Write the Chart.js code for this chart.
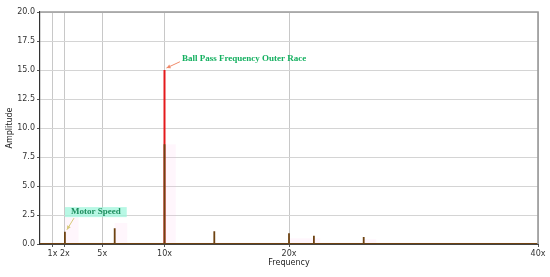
<!DOCTYPE html>
<html>
<head>
<meta charset="utf-8">
<script src="https://cdn.jsdelivr.net/npm/chart.js@4.4.1/dist/chart.umd.min.js"></script>
<style>
html,body{margin:0;padding:0;background:#fff;}
#wrap{width:550px;height:277px;position:relative;}
</style>
</head>
<body>
<div id="wrap"><canvas id="c" width="550" height="277"></canvas></div>
<script>
// ---- data ----
const harmonicTicks = [1, 2, 5, 10, 20, 40];
const yTicks = [0, 2.5, 5, 7.5, 10, 12.5, 15, 17.5, 20];
const peakFreqs = [2, 6, 10, 14, 20, 22, 26];
const peakAmps  = [1.06, 1.35, 8.6, 1.1, 0.92, 0.71, 0.6];
const bpfoFreq = 10;
const bpfoAmp = 15;
const bandStarts  = [2, 6, 10, 20, 26];
const bandEnds    = [3.1, 7.0, 10.9, 22.5, 27];
const bandHeights = [2.3, 1.8, 8.6, 0.5, 0.4];
const annotationLabels  = ['Ball Pass Frequency Outer Race', 'Motor Speed'];
const annotationTargets = [[10, 15], [2, 1.06]];
const annotationTextPos = [[11.4, 15.97], [2.49, 2.75]];

// build datasets
const spectrum = [{x: 0, y: 0}];
peakFreqs.forEach((f, i) => { spectrum.push({x: f, y: 0}, {x: f, y: peakAmps[i]}, {x: f, y: 0}); });
spectrum.push({x: 40, y: 0});

const bpfoLine = [{x: bpfoFreq, y: 0}, {x: bpfoFreq, y: bpfoAmp}];

const bands = [{x: 0, y: 0.12}];
bandStarts.forEach((s, i) => {
  bands.push({x: s, y: 0.12}, {x: s, y: bandHeights[i]}, {x: bandEnds[i], y: bandHeights[i]}, {x: bandEnds[i], y: 0.12});
});
bands.push({x: 40, y: 0.12});

const annotPlugin = {
  id: 'annot',
  afterDatasetsDraw(chart) {
    const ctx = chart.ctx, xs = chart.scales.x, ys = chart.scales.y, a = chart.chartArea;
    ctx.save();
    // frame top/right
    ctx.strokeStyle = '#9a9a9a';
    ctx.lineWidth = 1.6;
    ctx.beginPath();
    ctx.moveTo(a.left, a.top); ctx.lineTo(a.right, a.top); ctx.lineTo(a.right, a.bottom);
    ctx.stroke();

    const styles = [
      {font: 'bold 9px "Liberation Serif", serif', color: '#14b060', arrow: '#f08a6a', bg: null},
      {font: 'bold 9px "Liberation Serif", serif', color: '#1f8f5f', arrow: '#d6c878', bg: 'rgba(160,245,220,0.75)'}
    ];
    annotationLabels.forEach((lab, i) => {
      const st = styles[i];
      const tx = xs.getPixelForValue(annotationTextPos[i][0]);
      const ty = ys.getPixelForValue(annotationTextPos[i][1]);
      const px = xs.getPixelForValue(annotationTargets[i][0]);
      const py = ys.getPixelForValue(annotationTargets[i][1]);
      ctx.font = st.font;
      const w = ctx.measureText(lab).width;
      if (st.bg) {
        ctx.fillStyle = st.bg;
        ctx.fillRect(tx - 6, ty - 5, w + 12, 10);
      }
      ctx.fillStyle = st.color;
      ctx.textBaseline = 'middle';
      ctx.textAlign = 'left';
      ctx.fillText(lab, tx, ty);
      // arrow
      const sx = i === 0 ? tx - 2 : tx + 3;
      const sy = i === 0 ? ty + 3 : ty + 6;
      const ex = px + 2, ey = py - 2;
      ctx.strokeStyle = st.arrow; ctx.fillStyle = st.arrow; ctx.lineWidth = 1;
      ctx.beginPath(); ctx.moveTo(sx, sy); ctx.lineTo(ex, ey); ctx.stroke();
      const ang = Math.atan2(ey - sy, ex - sx);
      ctx.beginPath();
      ctx.moveTo(ex, ey);
      ctx.lineTo(ex - 4 * Math.cos(ang) + 2 * Math.sin(ang), ey - 4 * Math.sin(ang) - 2 * Math.cos(ang));
      ctx.lineTo(ex - 4 * Math.cos(ang) - 2 * Math.sin(ang), ey - 4 * Math.sin(ang) + 2 * Math.cos(ang));
      ctx.closePath(); ctx.fill();
    });
    ctx.restore();
  }
};

new Chart(document.getElementById('c'), {
  type: 'line',
  data: {
    datasets: [
      {data: bands, borderColor: 'rgba(0,0,0,0)', backgroundColor: 'rgba(255,185,230,0.13)', borderWidth: 0, fill: 'origin', pointRadius: 0, tension: 0, order: 3},
      {data: bpfoLine, borderColor: '#e41a1c', borderWidth: 2, pointRadius: 0, fill: false, order: 2},
      {data: spectrum, borderColor: '#6e4312', borderWidth: 1.8, pointRadius: 0, fill: false, order: 1}
    ]
  },
  options: {
    responsive: false,
    animation: false,
    layout: {padding: {left: 0, right: 12, top: 12, bottom: 0}},
    plugins: {legend: {display: false}, tooltip: {enabled: false}},
    scales: {
      x: {
        type: 'linear', min: 0, max: 40,
        afterBuildTicks: s => { s.ticks = harmonicTicks.map(v => ({value: v})); },
        afterFit: s => { s.height = 33; },
        ticks: {callback: v => v + 'x', maxRotation: 0, autoSkip: false, font: {family: 'DejaVu Sans', size: 8}, color: '#333', padding: 2},
        grid: {color: '#c8c8c8', lineWidth: 1, tickLength: 3, tickColor: '#555'},
        border: {display: true, color: '#444', width: 1},
        title: {display: true, text: 'Frequency', font: {family: 'DejaVu Sans', size: 8}, color: '#222', padding: {top: 0, bottom: 9}}
      },
      y: {
        type: 'linear', min: 0, max: 20,
        afterBuildTicks: s => { s.ticks = yTicks.map(v => ({value: v})); },
        afterFit: s => { s.width = 40; },
        ticks: {callback: v => Number(v).toFixed(1), font: {family: 'DejaVu Sans', size: 8}, color: '#333', padding: 2},
        grid: {color: '#d4d4d4', lineWidth: 1, tickLength: 3, tickColor: '#555'},
        border: {display: true, color: '#333', width: 1.2},
        title: {display: true, text: 'Amplitude', font: {family: 'DejaVu Sans', size: 8}, color: '#222', padding: {top: 5, bottom: 0}}
      }
    }
  },
  plugins: [annotPlugin]
});
</script>
</body>
</html>
